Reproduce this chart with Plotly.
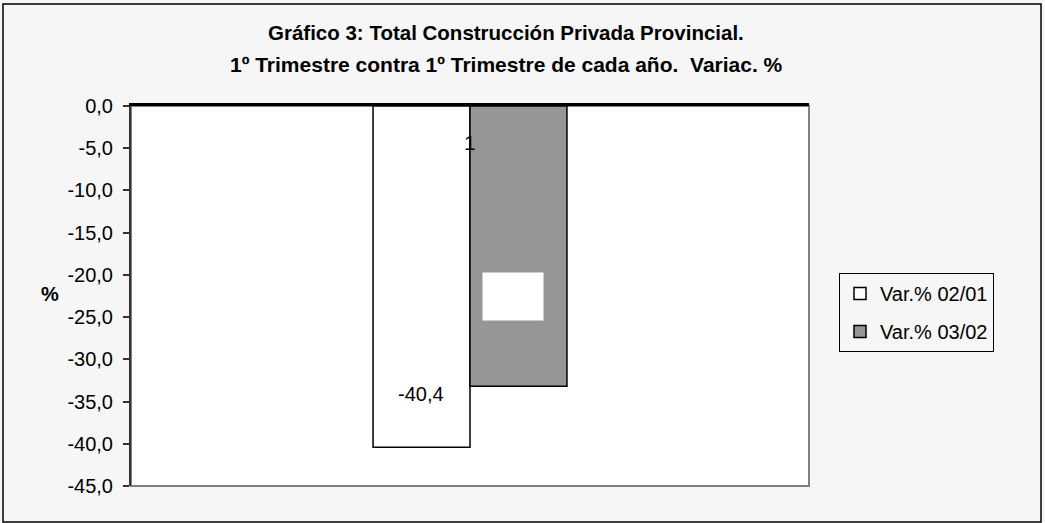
import plotly.graph_objects as go

# ---- data ----
categories = ["1"]
series_names = ["Var.% 02/01", "Var.% 03/02"]
values_0201 = [-40.4]
values_0302 = [-33.2]
bar_colors = ["#ffffff", "#969696"]
y_tick_vals = [0, -5, -10, -15, -20, -25, -30, -35, -40, -45]
y_tick_text = ["0,0", "-5,0", "-10,0", "-15,0", "-20,0", "-25,0", "-30,0", "-35,0", "-40,0", "-45,0"]
title_lines = ["Gráfico 3: Total Construcción Privada Provincial.",
               "1º Trimestre contra 1º Trimestre de cada año.  Variac. %"]

FONT = "Liberation Sans, Arial, sans-serif"
W, H = 1045, 523
L, R, T, B = 131, 236, 106, 37
pw, ph = W - L - R, H - T - B

def px_x(x):
    return (x - L) / pw

def px_y(y):
    return (H - B - y) / ph

def fmt(v):
    return f"{v:.1f}".replace(".", ",")

fig = go.Figure()
for name, vals, col in zip(series_names, [values_0201, values_0302], bar_colors):
    fig.add_trace(go.Bar(
        x=categories, y=vals, name=name, legendgroup=name,
        marker=dict(color=col, line=dict(color="#000000", width=1.5)),
        hoverinfo="skip",
    ))

cat_idx = 0
annotations = [
    # title lines
    dict(x=px_x(506), y=px_y(33), xref="paper", yref="paper", text="<b>" + title_lines[0] + "</b>",
         showarrow=False, xanchor="center", yanchor="middle",
         font=dict(family=FONT, size=20.5, color="#000")),
    dict(x=px_x(506), y=px_y(64), xref="paper", yref="paper", text="<b>" + title_lines[1] + "</b>",
         showarrow=False, xanchor="center", yanchor="middle",
         font=dict(family=FONT, size=21, color="#000")),
    # data label on first bar
    dict(x=cat_idx, y=values_0201[0], xref="x", yref="y", text=fmt(values_0201[0]),
         showarrow=False, xshift=-49, yshift=53, font=dict(family=FONT, size=20, color="#000")),
    # blank white label box on second bar
    dict(x=cat_idx, y=values_0302[0], xref="x", yref="y", text=" ",
         showarrow=False, xshift=43, yshift=90, width=58, height=45, bgcolor="#ffffff",
         font=dict(family=FONT, size=19, color="#fff")),
    # category label
    dict(x=cat_idx, y=0, xref="x", yref="y", text=categories[0], showarrow=False,
         yshift=-36, font=dict(family=FONT, size=21, color="#000")),
    # y axis title
    dict(x=px_x(50), y=px_y(294), xref="paper", yref="paper", text="<b>%</b>", showarrow=False,
         xanchor="center", yanchor="middle", font=dict(family=FONT, size=20, color="#000")),
]

shapes = [
    # outer chart border
    dict(type="rect", xref="paper", yref="paper", x0=px_x(3), x1=px_x(1041), y0=px_y(522), y1=px_y(4),
         line=dict(color="#000000", width=1.5), layer="below"),
    # plot area border
    dict(type="rect", xref="paper", yref="paper", x0=0, x1=1, y0=0, y1=1,
         line=dict(color="#808080", width=2), layer="below"),
]

fig.update_layout(
    width=W, height=H,
    margin=dict(l=L, r=R, t=T, b=B, pad=0),
    paper_bgcolor="#f6f6f6",
    plot_bgcolor="#ffffff",
    barmode="group", bargap=0.714, bargroupgap=0,
    font=dict(family=FONT, size=20, color="#000"),
    xaxis=dict(type="category", side="top", range=[-0.5, 0.5], showline=True, linecolor="#000", linewidth=3,
               ticks="inside", tickson="boundaries", ticklen=8, tickwidth=3, tickcolor="#000",
               showticklabels=False, showgrid=False, zeroline=False),
    yaxis=dict(range=[-45, 0], tickvals=y_tick_vals, ticktext=y_tick_text,
               showline=True, linecolor="#333", linewidth=2, ticks="outside", ticklen=6,
               tickwidth=1.5, tickcolor="#333", ticklabelstandoff=6,
               showgrid=False, zeroline=False, tickfont=dict(family=FONT, size=20, color="#000")),
    legend=dict(x=px_x(839), y=px_y(273), xanchor="left", yanchor="top", xref="paper", yref="paper",
                bgcolor="rgba(0,0,0,0)", bordercolor="#000", borderwidth=1,
                traceorder="grouped", tracegroupgap=9,
                font=dict(family=FONT, size=20, color="#000")),
    annotations=annotations,
    shapes=shapes,
)

fig.write_html("out.html", config={"displayModeBar": False},
               post_script="document.body.style.margin='0';document.body.style.padding='0';")
